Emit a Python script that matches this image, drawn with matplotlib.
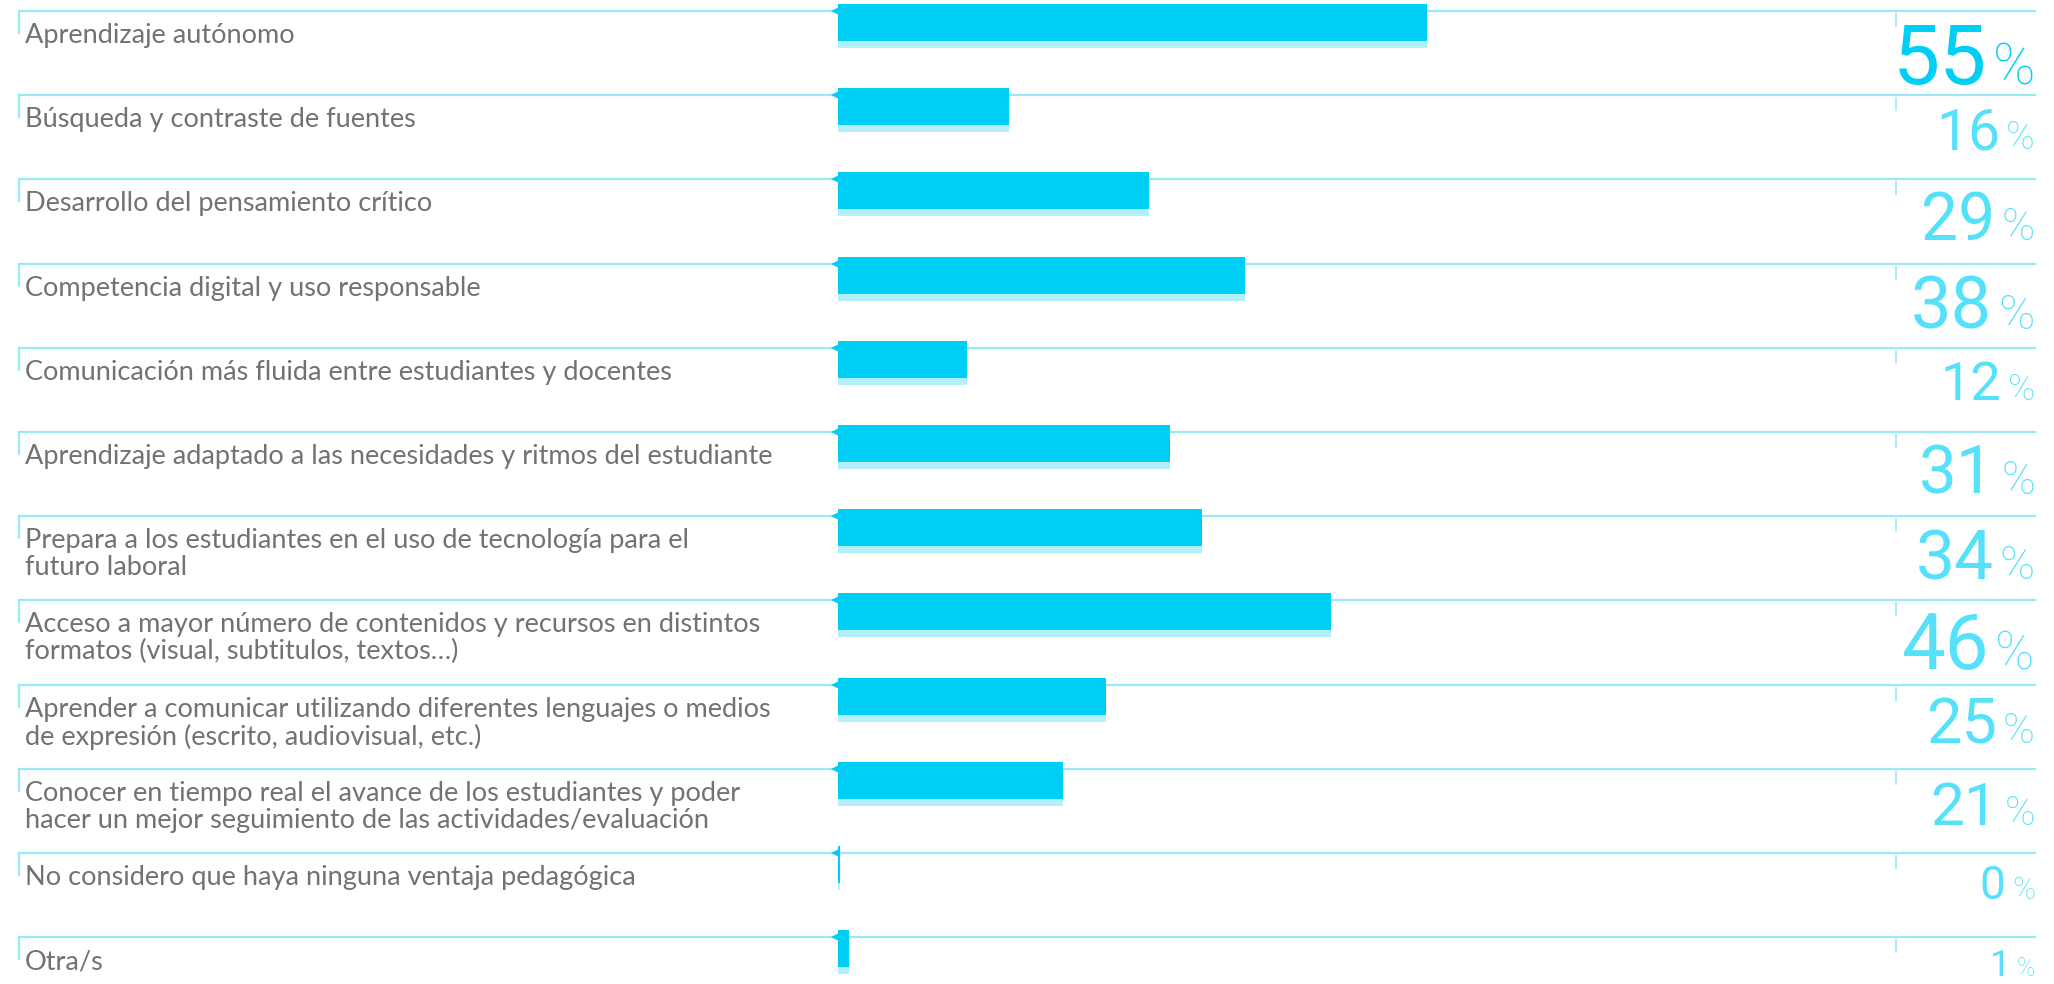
import matplotlib.pyplot as plt
from matplotlib import font_manager
from matplotlib.patches import Rectangle

# Data
labels = [
    'Aprendizaje autónomo',
    'Búsqueda y contraste de fuentes',
    'Desarrollo del pensamiento crítico',
    'Competencia digital y uso responsable',
    'Comunicación más fluida entre estudiantes y docentes',
    'Aprendizaje adaptado a las necesidades y ritmos del estudiante',
    'Prepara a los estudiantes en el uso de tecnología para el\nfuturo laboral',
    'Acceso a mayor número de contenidos y recursos en distintos\nformatos (visual, subtitulos, textos…)',
    'Aprender a comunicar utilizando diferentes lenguajes o medios\nde expresión (escrito, audiovisual, etc.)',
    'Conocer en tiempo real el avance de los estudiantes y poder\nhacer un mejor seguimiento de las actividades/evaluación',
    'No considero que haya ninguna ventaja pedagógica',
    'Otra/s',
]
values = [55, 16, 29, 38, 12, 31, 34, 46, 25, 21, 0, 1]

# Styles
W, H = 2054, 984
BAR = '#00cff5'
SHADOW = '#b3f0fa'
LINE = '#9ae9f9'
LIGHT = '#55e1f9'
TEXT = '#727272'

installed = {f.name for f in font_manager.fontManager.ttflist}
label_font = [f for f in ['Lato', 'Open Sans', 'DejaVu Sans'] if f in installed]
num_font = [f for f in ['Liberation Sans Narrow', 'Roboto', 'DejaVu Sans'] if f in installed]

fig = plt.figure(figsize=(W / 100, H / 100), dpi=100)
ax = fig.add_axes([0, 0, 1, 1])
ax.axis('off')

# pixel geometry -> data units
x0_px, px_per_pct = 838, 10.71
row0_px, row_px = 11, 84.2
ax.set_xlim(-x0_px / px_per_pct, (W - x0_px) / px_per_pct)
ax.set_ylim((H - row0_px) / row_px, -row0_px / row_px)

def py(p):
    return p / row_px

def fx(p):
    return p / W

tr = ax.get_yaxis_transform()
renderer = fig.canvas.get_renderer()
vmax = max(values)

for i, (lab, v) in enumerate(zip(labels, values)):
    line_px = row0_px + i * row_px

    # row line and ticks
    ax.plot([fx(19), fx(2035)], [i, i], transform=tr, color=LINE, lw=1.6, zorder=1)
    ax.plot([fx(19), fx(19)], [i, i + py(22)], transform=tr, color=LINE, lw=1.6, zorder=1)
    ax.plot([fx(1896), fx(1896)], [i + py(3), i + py(15)], transform=tr, color=LINE, lw=1.2, zorder=1)

    # bar with lighter shadow strip
    w = max(v, 0.18)
    ax.add_patch(Rectangle((0, i + py(30)), w, py(7), color=SHADOW, lw=0, zorder=2))
    ax.add_patch(Rectangle((0, i - py(7)), w, py(37), color=BAR, lw=0, zorder=3))
    ax.plot([-0.25], [i], marker='<', ms=6, color=BAR, mew=0, zorder=3)

    # label
    ax.text(fx(25), i + py(12), lab, transform=tr, ha='left', va='top',
            fontsize=19.5, color=TEXT, family=label_font,
            linespacing=1.1)

    # value, size grows with the value (kept inside the bottom edge)
    h = min(33 + 0.5 * v, (H - line_px - 14) / 1.25)
    col = BAR if v == vmax else LIGHT
    base = i + py(13 + h)
    pct = ax.text(fx(2035), base, '%', transform=tr, ha='right', va='baseline',
                  fontsize=h * 0.68, color=col, family=num_font, fontweight='light')
    pw = pct.get_window_extent(renderer).width
    ax.text(fx(2035 - pw - 6), base, str(v), transform=tr, ha='right', va='baseline',
            fontsize=h, color=col, family=num_font)

fig.savefig('out.png', dpi=100)
